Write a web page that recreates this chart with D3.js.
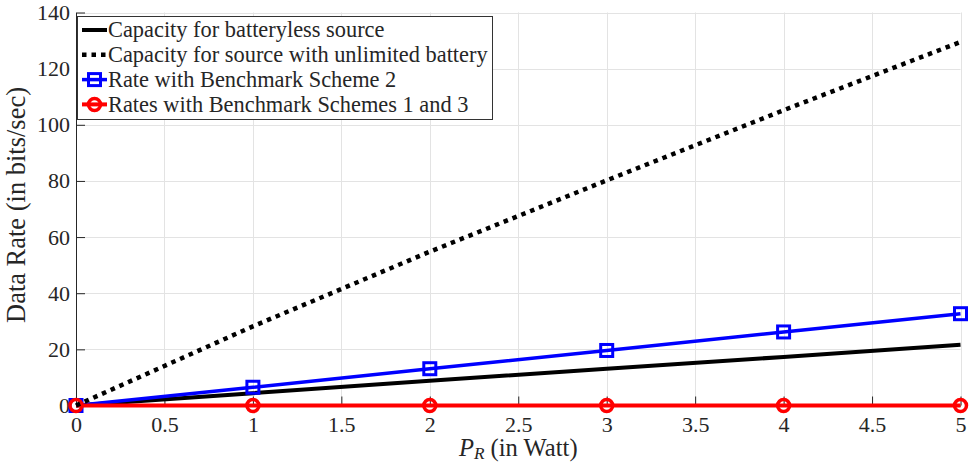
<!DOCTYPE html>
<html>
<head>
<meta charset="utf-8">
<script src="https://cdn.jsdelivr.net/npm/d3@7"></script>
<style>
  body { margin: 0; background: #fff; }
  svg { display: block; }
  text { font-family: "Liberation Serif", "DejaVu Serif", serif; fill: #262626; }
</style>
</head>
<body>
<div id="chart"></div>
<script>
const power = [0, 1, 2, 3, 4, 5];
const batteryless = [0, 4.4, 8.8, 13.1, 17.3, 21.6];
const unlimited = [0, 28.2, 54.8, 80.2, 105.2, 129.5];
const scheme2 = [0, 6.5, 13.1, 19.6, 26.2, 32.7];
const schemes13 = [0, 0, 0, 0, 0, 0];

const xTicks = [0, 0.5, 1, 1.5, 2, 2.5, 3, 3.5, 4, 4.5, 5];
const yTicks = [0, 20, 40, 60, 80, 100, 120, 140];

const legendLabels = [
    "Capacity for batteryless source",
    "Capacity for source with unlimited battery",
    "Rate with Benchmark Scheme 2",
    "Rates with Benchmark Schemes 1 and 3"
];

const W = 971, H = 463;
const plot = { left: 76, right: 960.5, top: 12.5, bottom: 405.5 };
const serif = '"Liberation Serif", "DejaVu Serif", serif';

const svg = d3.select("#chart")
    .append("svg")
    .attr("width", W)
    .attr("height", H);

// pick a font size so a text spans a given width
function fitSize(str, target, base) {
    const t = svg.append("text").style("font-family", serif).style("font-size", base + "px").text(str);
    const w = t.node().getComputedTextLength();
    t.remove();
    return base * target / w;
}
const tickSize = fitSize("140", 33, 20);
const legendSize = fitSize(legendLabels[1], 380, 18);
const ylabSize = fitSize("Data Rate (in bits/sec)", 236, 20);
const xlabSize = fitSize("P (in Watt)", 106, 20);

const x = d3.scaleLinear().domain([0, 5]).range([plot.left, plot.right]);
const y = d3.scaleLinear().domain([0, 140]).range([plot.bottom, plot.top]);

// grid
const grid = svg.append("g").attr("stroke", "#e3e3e3").attr("stroke-width", 1);
grid.selectAll(".gx")
    .data(xTicks)
    .join("line")
    .attr("x1", d => Math.round(x(d)) + 0.5).attr("x2", d => Math.round(x(d)) + 0.5)
    .attr("y1", plot.top).attr("y2", plot.bottom);
grid.selectAll(".gy")
    .data(yTicks)
    .join("line")
    .attr("x1", plot.left).attr("x2", plot.right)
    .attr("y1", d => Math.round(y(d)) + 0.5).attr("y2", d => Math.round(y(d)) + 0.5);

// axes
const xAxis = svg.append("g")
    .attr("transform", `translate(0,${plot.bottom})`)
    .call(d3.axisBottom(x).tickValues(xTicks).tickFormat(d3.format("")).tickSize(-9).tickSizeOuter(0).tickPadding(11));
const yAxis = svg.append("g")
    .attr("transform", `translate(${plot.left},0)`)
    .call(d3.axisLeft(y).tickValues(yTicks).tickFormat(d3.format("")).tickSize(-9).tickSizeOuter(0).tickPadding(6));

[xAxis, yAxis].forEach(a => {
    a.attr("font-family", null);
    a.select(".domain").attr("stroke", "#262626");
    a.selectAll(".tick line").attr("stroke", "#262626");
    a.selectAll(".tick text")
        .attr("fill", "#262626")
        .style("font-size", tickSize + "px")
        .style("font-family", serif);
});

// axis titles
svg.append("text")
    .attr("transform", `translate(25,205) rotate(-90)`)
    .attr("text-anchor", "middle")
    .style("font-size", ylabSize + "px")
    .text("Data Rate (in bits/sec)");

const xl = svg.append("text")
    .attr("x", (plot.left + plot.right) / 2)
    .attr("y", 456)
    .attr("text-anchor", "middle")
    .style("font-size", xlabSize + "px");
xl.append("tspan").style("font-style", "italic").text("P");
xl.append("tspan").attr("dy", 2.5).style("font-size", (xlabSize * 0.7) + "px").style("font-style", "italic").text("R");
xl.append("tspan").attr("dy", -2.5).text(" (in Watt)");

// lines
const line = d3.line().x((d, i) => x(power[i])).y(d => y(d));

svg.append("path").datum(batteryless)
    .attr("d", line).attr("fill", "none")
    .attr("stroke", "#000").attr("stroke-width", 4);

svg.append("path").datum(scheme2)
    .attr("d", line).attr("fill", "none")
    .attr("stroke", "#0000ff").attr("stroke-width", 3.5);
svg.selectAll(".sq")
    .data(scheme2)
    .join("rect")
    .attr("x", (d, i) => x(power[i]) - 6).attr("y", d => y(d) - 6)
    .attr("width", 12).attr("height", 12)
    .attr("fill", "none").attr("stroke", "#0000ff").attr("stroke-width", 3);

svg.append("path").datum(schemes13)
    .attr("d", line).attr("fill", "none")
    .attr("stroke", "#ff0000").attr("stroke-width", 4);
svg.selectAll(".ci")
    .data(schemes13)
    .join("circle")
    .attr("cx", (d, i) => x(power[i])).attr("cy", d => y(d))
    .attr("r", 6)
    .attr("fill", "none").attr("stroke", "#ff0000").attr("stroke-width", 3.5);

svg.append("path").datum(unlimited)
    .attr("d", line).attr("fill", "none")
    .attr("stroke", "#000").attr("stroke-width", 4.5)
    .attr("stroke-dasharray", "4.5,5");

// legend
const lg = svg.append("g");
lg.append("rect")
    .attr("x", 77.5).attr("y", 16.5)
    .attr("width", 415).attr("height", 103)
    .attr("fill", "#fff").attr("stroke", "#333").attr("stroke-width", 1);

const rows = lg.selectAll(".row")
    .data(legendLabels)
    .join("g")
    .attr("transform", (d, i) => `translate(0,${30 + i * 24.8})`);

rows.append("line")
    .attr("x1", 82).attr("x2", 107).attr("y1", 0).attr("y2", 0)
    .attr("stroke", (d, i) => ["#000", "#000", "#0000ff", "#ff0000"][i])
    .attr("stroke-width", (d, i) => [4, 4.5, 3.5, 4][i])
    .attr("stroke-dasharray", (d, i) => i === 1 ? "4.5,5" : null);

rows.filter((d, i) => i === 2).append("rect")
    .attr("x", 88.5).attr("y", -6).attr("width", 12).attr("height", 12)
    .attr("fill", "none").attr("stroke", "#0000ff").attr("stroke-width", 3);
rows.filter((d, i) => i === 3).append("circle")
    .attr("cx", 94.5).attr("cy", 0).attr("r", 6)
    .attr("fill", "none").attr("stroke", "#ff0000").attr("stroke-width", 3.5);

rows.append("text")
    .attr("x", 108).attr("y", 0).attr("dy", "0.33em")
    .style("font-size", legendSize + "px")
    .text(d => d);
</script>
</body>
</html>
